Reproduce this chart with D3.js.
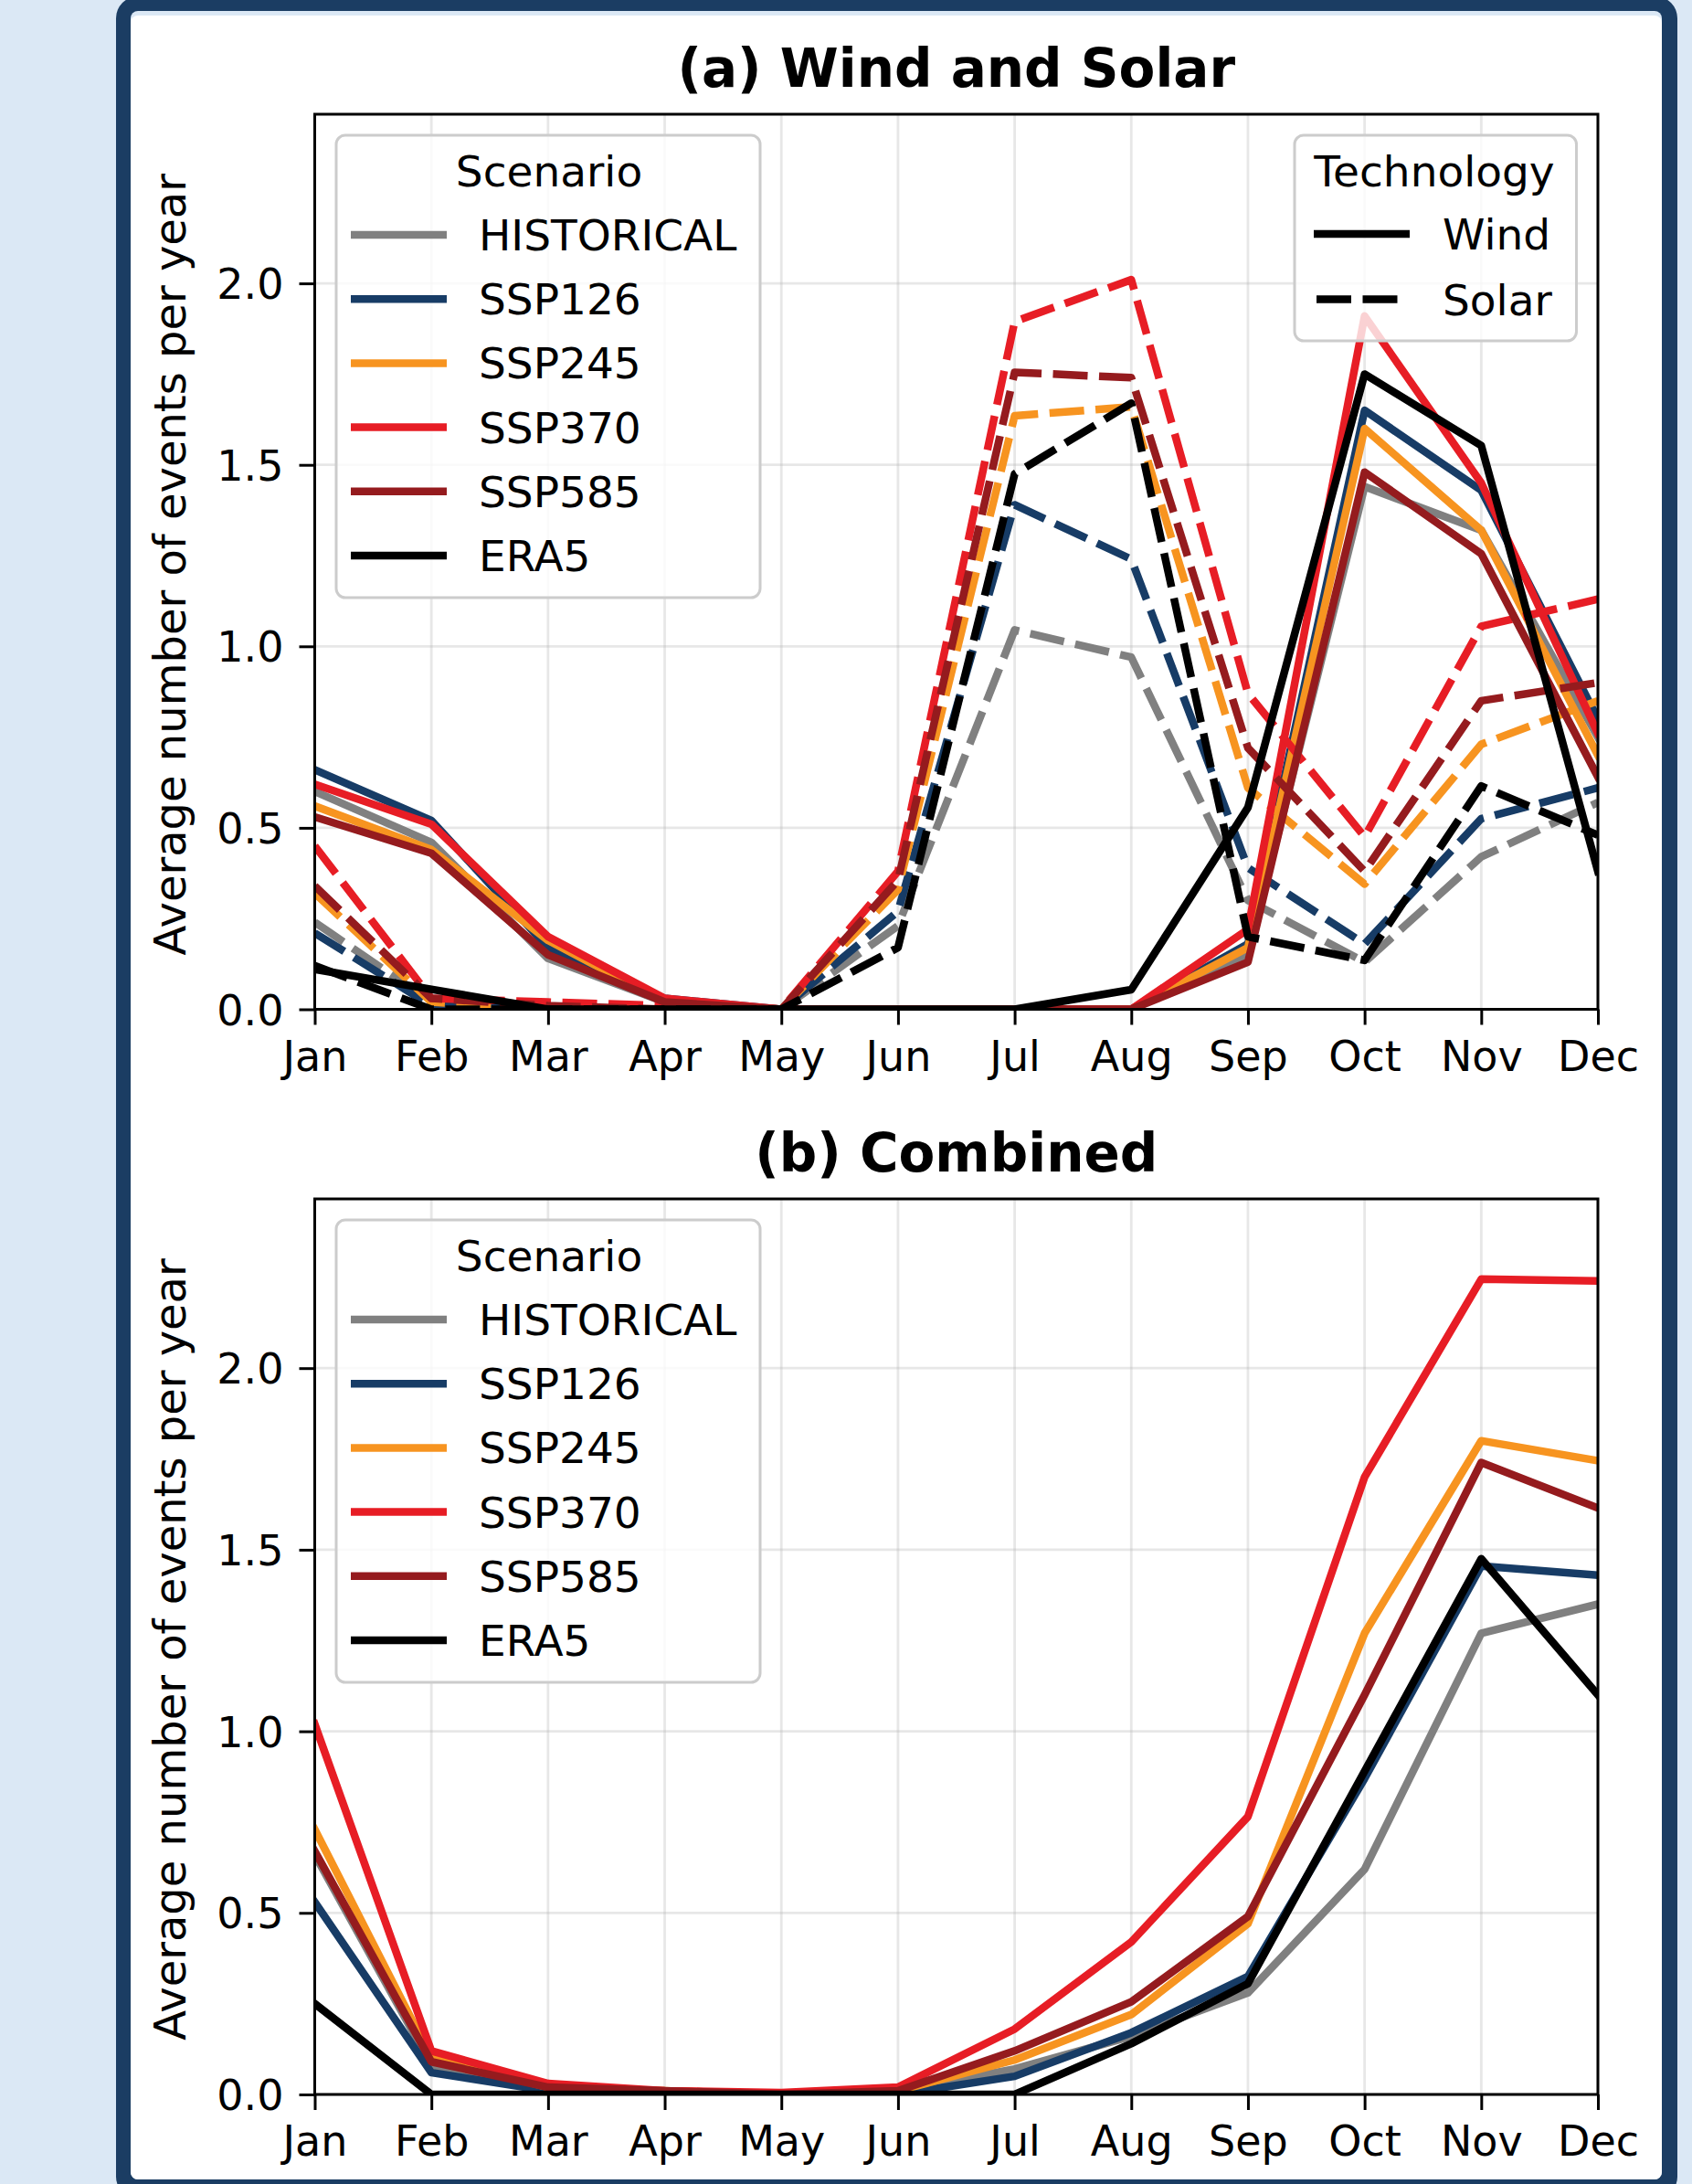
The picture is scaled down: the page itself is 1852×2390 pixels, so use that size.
<!DOCTYPE html>
<html>
<head>
<meta charset="utf-8">
<script src="https://cdn.jsdelivr.net/npm/d3@7"></script>
<style>
  html, body { margin: 0; padding: 0; background: #dbe8f5; }
  svg { display: block; }
  text { font-family: "DejaVu Sans", sans-serif; fill: #000; }
</style>
</head>
<body>
<svg id="chart" width="1852" height="2390"></svg>
<script>
// ---------------- DATA ----------------
const months = ["Jan","Feb","Mar","Apr","May","Jun","Jul","Aug","Sep","Oct","Nov","Dec"];
const scenarios = ["HISTORICAL","SSP126","SSP245","SSP370","SSP585","ERA5"];
const scenarioColors = ["#808080","#173c66","#f79420","#e71d25","#951b1e","#000000"];
const technologies = ["Wind","Solar"];
const yTicks = [0.0, 0.5, 1.0, 1.5, 2.0];
const yMax = 2.466;

// (a) Wind (solid)
const windHIST   = [0.60,0.46,0.14,0.02,0.00,0.00,0.00,0.00,0.15,1.44,1.32,0.75];
const windSSP126 = [0.66,0.52,0.17,0.03,0.00,0.00,0.00,0.00,0.18,1.65,1.43,0.80];
const windSSP245 = [0.56,0.44,0.19,0.02,0.00,0.00,0.00,0.00,0.17,1.60,1.32,0.70];
const windSSP370 = [0.62,0.51,0.20,0.03,0.00,0.00,0.00,0.00,0.22,1.91,1.45,0.76];
const windSSP585 = [0.53,0.43,0.15,0.02,0.00,0.00,0.00,0.00,0.13,1.48,1.255,0.64];
const windERA5   = [0.11,0.055,0.00,0.00,0.00,0.00,0.00,0.054,0.556,1.75,1.553,0.38];
// (a) Solar (dashed)
const solarHIST   = [0.24,0.02,0.00,0.00,0.00,0.23,1.045,0.97,0.30,0.13,0.42,0.57];
const solarSSP126 = [0.21,0.01,0.00,0.00,0.00,0.27,1.39,1.24,0.39,0.18,0.525,0.61];
const solarSSP245 = [0.32,0.02,0.00,0.00,0.00,0.33,1.635,1.66,0.61,0.345,0.73,0.85];
const solarSSP370 = [0.45,0.03,0.02,0.01,0.00,0.38,1.895,2.01,0.87,0.475,1.055,1.13];
const solarSSP585 = [0.34,0.03,0.01,0.00,0.00,0.355,1.755,1.74,0.72,0.38,0.85,0.90];
const solarERA5   = [0.12,0.00,0.00,0.00,0.00,0.17,1.475,1.67,0.20,0.135,0.615,0.48];
// (b) Combined
const combHIST   = [0.66,0.08,0.02,0.00,0.00,0.01,0.07,0.16,0.28,0.62,1.27,1.35];
const combSSP126 = [0.53,0.06,0.01,0.00,0.00,0.00,0.05,0.17,0.325,0.87,1.455,1.43];
const combSSP245 = [0.73,0.10,0.02,0.01,0.00,0.01,0.095,0.22,0.47,1.27,1.80,1.745];
const combSSP370 = [1.02,0.12,0.03,0.01,0.005,0.02,0.18,0.42,0.765,1.70,2.245,2.24];
const combSSP585 = [0.67,0.09,0.02,0.01,0.00,0.01,0.12,0.255,0.49,1.10,1.74,1.615];
const combERA5   = [0.25,0.00,0.00,0.00,0.00,0.00,0.00,0.14,0.305,0.89,1.475,1.10];

const windSeries  = [windHIST, windSSP126, windSSP245, windSSP370, windSSP585, windERA5];
const solarSeries = [solarHIST, solarSSP126, solarSSP245, solarSSP370, solarSSP585, solarERA5];
const combSeries  = [combHIST, combSSP126, combSSP245, combSSP370, combSSP585, combERA5];

// ---------------- LAYOUT ----------------
const W = 1852, H = 2390;
const X0 = 344.5, X1 = 1749;
const LW = 8.5;
const DASH = "38,12.5";
const FONT_TICK = 46, FONT_LABEL = 48, FONT_TITLE = 58, FONT_LEG = 47;

const svg = d3.select("#chart");

// frame
svg.append("rect").attr("x",0).attr("y",0).attr("width",W).attr("height",H).attr("fill","#dbe8f5");
svg.append("rect").attr("x",127).attr("y",-4).attr("width",1709).attr("height",2410)
   .attr("rx",24).attr("fill","#1b3d63");
svg.append("rect").attr("x",143).attr("y",12).attr("width",1676).attr("height",2373)
   .attr("rx",8).attr("fill","#dbe8f5");
svg.append("rect").attr("x",143).attr("y",17).attr("width",1676).attr("height",2368)
   .attr("rx",8).attr("fill","#ffffff");

const x = d3.scalePoint().domain(months).range([X0, X1]);

function panel(id, top, bottom, title, groups, techLegend) {
  const y = d3.scaleLinear().domain([0, yMax]).range([bottom, top]);
  const g = svg.append("g");

  // grid
  g.append("g").selectAll("line").data(months).join("line")
    .attr("x1", d => x(d)).attr("x2", d => x(d)).attr("y1", top).attr("y2", bottom)
    .attr("stroke", "#b0b0b0").attr("stroke-opacity", 0.3).attr("stroke-width", 2.8);
  g.append("g").selectAll("line").data(yTicks).join("line")
    .attr("x1", X0).attr("x2", X1).attr("y1", d => y(d)).attr("y2", d => y(d))
    .attr("stroke", "#b0b0b0").attr("stroke-opacity", 0.3).attr("stroke-width", 2.8);

  // clip
  svg.append("clipPath").attr("id", "clip" + id).append("rect")
    .attr("x", X0).attr("y", top).attr("width", X1 - X0).attr("height", bottom - top);

  const line = d3.line().x((d, i) => x(months[i])).y(d => y(d));
  const lines = g.append("g").attr("clip-path", "url(#clip" + id + ")");
  scenarios.forEach((s, si) => {
    groups.forEach(gr => {
      lines.append("path").datum(gr.series[si])
        .attr("d", line).attr("fill", "none")
        .attr("stroke", scenarioColors[si]).attr("stroke-width", LW)
        .attr("stroke-linejoin", "round")
        .attr("stroke-linecap", gr.dash ? "butt" : "square")
        .attr("stroke-dasharray", gr.dash ? DASH : null);
    });
  });

  // axes
  const xAxis = d3.axisBottom(x).tickSize(17).tickPadding(14);
  const ax = g.append("g").attr("transform", `translate(0,${bottom})`).call(xAxis);
  const yAxis = d3.axisLeft(y).tickValues(yTicks).tickFormat(d3.format(".1f")).tickSize(17).tickPadding(17);
  const ay = g.append("g").attr("transform", `translate(${X0},0)`).call(yAxis);
  [ax, ay].forEach(a => {
    a.select(".domain").remove();
    a.selectAll(".tick line").attr("stroke", "#000").attr("stroke-width", 3);
    a.selectAll(".tick text").attr("font-size", FONT_TICK).attr("font-family", "DejaVu Sans").attr("fill", "#000");
  });
  ax.selectAll(".tick text").attr("dy", null).attr("y", 67).attr("dominant-baseline", null);
  ay.selectAll(".tick text").attr("dy", null).attr("y", 16.5);

  // spines
  g.append("rect").attr("x", X0).attr("y", top).attr("width", X1 - X0).attr("height", bottom - top)
    .attr("fill", "none").attr("stroke", "#000").attr("stroke-width", 3);

  // title
  g.append("text").attr("x", (X0 + X1) / 2).attr("y", top - 30).attr("text-anchor", "middle")
    .attr("font-size", FONT_TITLE).attr("font-weight", "bold").text(title);

  // y label
  g.append("text").attr("transform", `translate(203,${(top + bottom) / 2 + 3}) rotate(-90)`)
    .attr("text-anchor", "middle").attr("font-size", FONT_LABEL)
    .text("Average number of events per year");

  // Scenario legend
  const lg = g.append("g");
  lg.append("rect").attr("x", 368).attr("y", top + 23).attr("width", 464).attr("height", 506)
    .attr("rx", 10).attr("fill", "#fff").attr("fill-opacity", 0.8)
    .attr("stroke", "#cccccc").attr("stroke-width", 3);
  lg.append("text").attr("x", 601).attr("y", top + 79).attr("text-anchor", "middle")
    .attr("font-size", FONT_LEG).text("Scenario");
  scenarios.forEach((s, i) => {
    const ly = top + 132 + i * 70.2;
    lg.append("line").attr("x1", 388.25).attr("x2", 484.75).attr("y1", ly).attr("y2", ly)
      .attr("stroke", scenarioColors[i]).attr("stroke-width", LW).attr("stroke-linecap", "square");
    lg.append("text").attr("x", 524).attr("y", ly + 17).attr("font-size", FONT_LEG).text(s);
  });

  if (techLegend) {
    const tg = g.append("g");
    tg.append("rect").attr("x", 1417).attr("y", top + 23).attr("width", 308.5).attr("height", 225)
      .attr("rx", 10).attr("fill", "#fff").attr("fill-opacity", 0.8)
      .attr("stroke", "#cccccc").attr("stroke-width", 3);
    tg.append("text").attr("x", 1570).attr("y", top + 79).attr("text-anchor", "middle")
      .attr("font-size", FONT_LEG).text("Technology");
    technologies.forEach((t, i) => {
      const ly = top + 131 + i * 71.5;
      tg.append("line").attr("x1", i ? 1441 : 1442.25).attr("x2", i ? 1535 : 1538.75)
        .attr("y1", ly).attr("y2", ly)
        .attr("stroke", "#000").attr("stroke-width", LW)
        .attr("stroke-linecap", i ? "butt" : "square")
        .attr("stroke-dasharray", i ? DASH : null);
      tg.append("text").attr("x", 1579).attr("y", ly + 17).attr("font-size", FONT_LEG).text(t);
    });
  }
}

panel("a", 125, 1104.5, "(a) Wind and Solar",
  [{series: windSeries, dash: false}, {series: solarSeries, dash: true}], true);
panel("b", 1312, 2292, "(b) Combined",
  [{series: combSeries, dash: false}], false);
</script>
</body>
</html>
